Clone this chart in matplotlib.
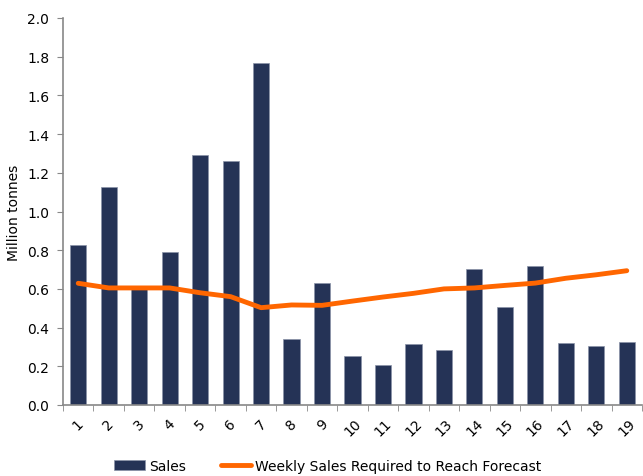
import matplotlib
matplotlib.use("Agg")
import matplotlib.pyplot as plt
import numpy as np

weeks = [str(i) for i in range(1, 20)]
sales = [0.827, 1.128, 0.60, 0.789, 1.294, 1.261, 1.767, 0.339, 0.629, 0.253,
         0.205, 0.314, 0.284, 0.701, 0.506, 0.718, 0.320, 0.303, 0.326]
required = [0.629, 0.605, 0.605, 0.605, 0.58, 0.56, 0.503, 0.517, 0.515, 0.537,
            0.558, 0.577, 0.600, 0.605, 0.618, 0.630, 0.655, 0.673, 0.694]

fig = plt.figure(figsize=(6.43, 4.77), dpi=100)
ax = fig.add_axes([63/643, 1 - 406/477, 579/643, 387/477])

x = np.arange(len(weeks))
bars = ax.bar(x, sales, width=0.53, color="#253356", edgecolor="#8a93a8",
              linewidth=0.5, label="Sales", zorder=2)
line, = ax.plot(x, required, color="#FF6600", linewidth=3.5, solid_capstyle="round",
                label="Weekly Sales Required to Reach Forecast", zorder=3)

ax.set_xlim(-0.5, len(weeks) - 0.5)
ax.set_ylim(0, 2.0)
yt = np.arange(0, 2.01, 0.2)
ax.set_yticks(yt)
ax.set_yticklabels([f"{v:.1f}" for v in yt], fontsize=10)
ax.set_xticks(x)
ax.set_xticklabels(weeks, rotation=45, fontsize=10, ha="center")
ax.set_xticks(np.arange(-0.5, len(weeks), 1), minor=True)
ax.tick_params(axis="x", which="major", length=0, pad=8)
ax.tick_params(axis="x", which="minor", length=4, color="#888888", direction="out")
ax.tick_params(axis="y", length=4, color="#888888", direction="out", pad=6)
ax.set_ylabel("Million tonnes", fontsize=10)
ax.yaxis.set_label_coords(-0.072, 0.5)

for s in ["top", "right"]:
    ax.spines[s].set_visible(False)
for s in ["left", "bottom"]:
    ax.spines[s].set_color("#888888")
    ax.spines[s].set_linewidth(1.2)

fig.legend([bars, line], ["Sales", "Weekly Sales Required to Reach Forecast"],
           loc="center", bbox_to_anchor=(328/643, 1 - 467/477), ncol=2,
           frameon=False, fontsize=10, handlelength=2.2, handletextpad=0.3,
           columnspacing=2.5)

fig.savefig("out.png", dpi=100)
